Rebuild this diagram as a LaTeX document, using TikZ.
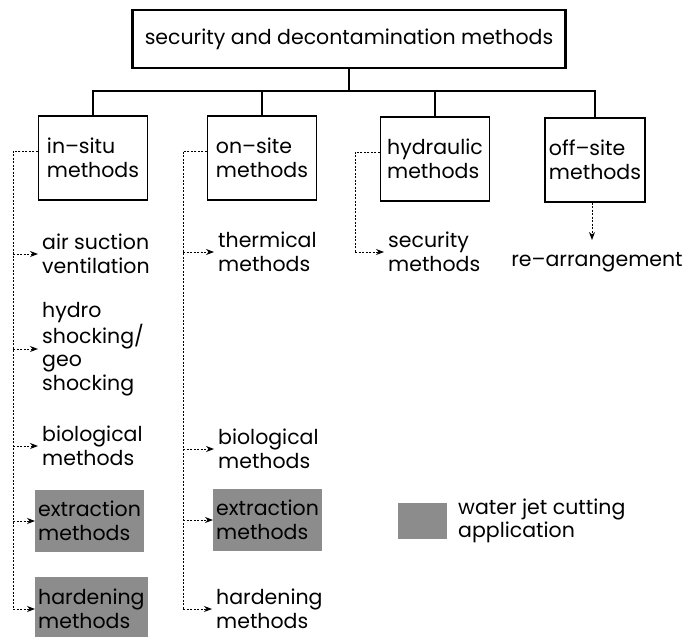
\documentclass[tikz,border=0pt]{standalone}
\usepackage{fontspec}
\setmainfont{Poppins}
\usetikzlibrary{arrows.meta}
\begin{document}
\begin{tikzpicture}[x=1pt,y=-1pt,
  every node/.style={font=\fontsize{20.5}{23.5}\selectfont},
  topbox/.style={draw, line width=2.4pt, minimum width=433pt, minimum height=58pt, inner sep=0pt},
  catbox/.style={draw, line width=1.3pt, minimum width=109pt, minimum height=84pt, align=left, inner sep=0pt},
  item/.style={anchor=west, align=left, inner sep=4pt},
  shadebox/.style={anchor=west, align=left, fill=black!45, inner xsep=3pt, inner ysep=0pt, minimum height=62pt},
  tree/.style={line width=1.1pt},
  spine/.style={line width=1pt, dash pattern=on 2.2pt off 1.3pt},
  darrow/.style={spine, -{Stealth[length=8pt,width=6pt]}}
]
\useasboundingbox (0,0) rectangle (688,637);

% top level
\node[topbox] (top) at (349,39) {security and decontamination methods};

% categories
\node[catbox] (insitu) at (93,158) {in–situ\\methods};
\node[catbox] (onsite) at (262,158) {on–site\\methods};
\node[catbox] (hydr) at (435,159) {hydraulic\\methods};
\node[catbox, minimum width=100pt] (offsite) at (595,160) {off–site\\methods};

\coordinate (hub) at (349,91);
\draw[tree] (top.south) -- (hub);
\draw[tree] (insitu.north) |- (hub) -| (offsite.north);
\draw[tree] (onsite.north) -- (onsite.north |- hub);
\draw[tree] (hydr.north) -- (hydr.north |- hub);

% in-situ items
\node[item] (air) at (38,254) {air suction\\ventilation};
\node[item] (hydro) at (38,349) {hydro\\shocking/\\geo\\shocking};
\node[item] (bioA) at (38,446) {biological\\methods};
\node[shadebox] (extA) at (35,521) {extraction\\methods};
\node[shadebox, minimum height=64pt] (hardA) at (35,609) {hardening\\methods};

\coordinate (sA) at (13,151);
\draw[spine] ([yshift=7pt]insitu.west) -- (sA) -- (sA |- hardA.west);
\foreach \n in {air,hydro,bioA,extA,hardA}
  \draw[darrow] (sA |- \n.west) -- (\n.west);

% on-site items
\node[item] (therm) at (214,252) {thermical\\methods};
\node[item] (bioB) at (214,449) {biological\\methods};
\node[shadebox] (extB) at (213,520) {extraction\\methods};
\node[item] (hardB) at (212,609) {hardening\\methods};

\coordinate (sB) at (183,151);
\draw[spine] ([yshift=7pt]onsite.west) -- (sB) -- (sB |- hardB.west);
\foreach \n in {therm,bioB,extB,hardB}
  \draw[darrow] (sB |- \n.west) -- (\n.west);

% hydraulic
\node[item] (secm) at (384,252) {security\\methods};
\coordinate (sC) at (355,152);
\draw[spine] ([yshift=7pt]hydr.west) -- (sC) -- (sC |- secm.west);
\draw[darrow] (sC |- secm.west) -- (secm.west);

% off-site
\node[inner sep=2pt] (rearr) at (597,262) {re–arrangement};
\draw[darrow] ([xshift=-3pt]offsite.south) -- ([xshift=-5pt,yshift=10pt]rearr.north);

% legend
\node[fill=black!45, minimum width=49pt, minimum height=36pt, inner sep=0pt] (legend) at (422,521) {};
\node[item] (legtext) at (454,521) {water jet cutting\\application};
\end{tikzpicture}
\end{document}
